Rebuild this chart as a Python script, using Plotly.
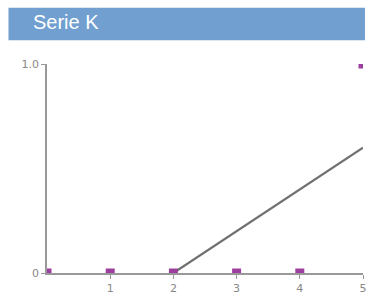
import plotly.graph_objects as go

# Data
x_points = [0, 1, 2, 3, 4, 5]
y_points = [0, 0, 0, 0, 0, 1]
x_line = [2, 5]
y_line = [0, 0.6]
x_ticks = [1, 2, 3, 4, 5]
y_ticks = [0, 1.0]
y_ticklabels = ["0", "1.0"]
title_text = "Serie K"

W, H = 369, 297
L, R, T, B = 47, 2, 64, 21
pw, ph = W - L - R, H - T - B

def px_x(p):
    return (p - L) / pw

def px_y(p):
    return (H - B - p) / ph

fig = go.Figure()
fig.add_trace(go.Scatter(x=x_line, y=y_line, mode="lines",
                         line=dict(color="#707070", width=2.2),
                         hoverinfo="skip", showlegend=False))
fig.add_trace(go.Scatter(x=x_points, y=y_points, mode="markers",
                         marker=dict(symbol="square", size=9, color="#9c3f9e"),
                         cliponaxis=True, showlegend=False))

fig.add_shape(type="rect", xref="paper", yref="paper",
              x0=px_x(8), x1=px_x(W), y0=px_y(40), y1=px_y(7),
              fillcolor="#709fd0", line=dict(width=0), layer="below")
fig.add_annotation(text=title_text, xref="paper", yref="paper",
                   x=px_x(31), y=px_y(21), xanchor="left", yanchor="middle",
                   showarrow=False,
                   font=dict(family="Liberation Sans, Arial", size=20, color="white"))

fig.update_layout(
    width=W, height=H,
    margin=dict(l=L, r=R, t=T, b=B),
    paper_bgcolor="white", plot_bgcolor="white",
    showlegend=False,
    xaxis=dict(range=[0, 5], tickvals=x_ticks, showgrid=False, zeroline=False,
               showline=True, linecolor="#999999", linewidth=1.5,
               ticks="outside", ticklen=4, tickcolor="#999999",
               ticklabeloverflow="allow",
               tickfont=dict(family="DejaVu Sans", size=11, color="#888888")),
    yaxis=dict(range=[0, 1.0], tickvals=y_ticks, ticktext=y_ticklabels,
               showgrid=False, zeroline=False,
               showline=True, linecolor="#999999", linewidth=1.5,
               ticks="outside", ticklen=4, tickcolor="#999999",
               tickfont=dict(family="DejaVu Sans", size=11, color="#888888")),
)

fig.write_html(
    "out.html",
    config={"displayModeBar": False},
    post_script="document.body.style.margin='0';document.body.style.overflow='hidden';"
                "document.documentElement.style.overflow='hidden';",
)
